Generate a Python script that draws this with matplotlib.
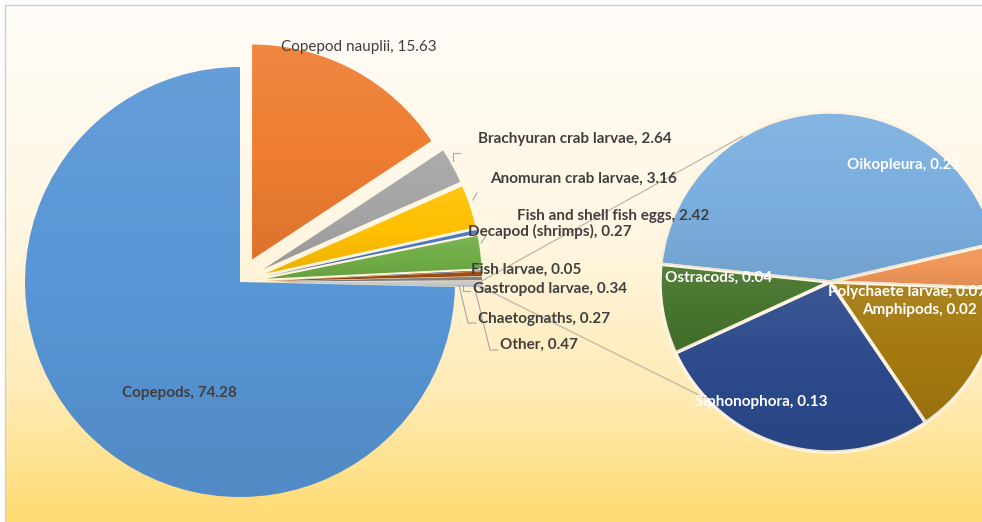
import numpy as np
import matplotlib.pyplot as plt
from matplotlib.colors import LinearSegmentedColormap

W, H = 982, 522

# main pie, clockwise from 12 o'clock
main_labels = ['Copepod nauplii', 'Brachyuran crab larvae', 'Anomuran crab larvae',
               'Decapod (shrimps)', 'Fish and shell fish eggs', 'Fish larvae',
               'Gastropod larvae', 'Chaetognaths', 'Other', 'Copepods']
main_values = [15.63, 2.64, 3.16, 0.27, 2.42, 0.05, 0.34, 0.27, 0.47, 74.28]
main_colors = ['#EE7D31', '#A5A5A5', '#FFC000', '#4472C4', '#70AD47', '#264478',
               '#9E480E', '#808080', '#C9C9C9', '#5896D6']

# secondary pie ("Other" split)
sub_labels = ['Oikopleura', 'Amphipods', 'Polychaete larvae', 'Siphonophora', 'Ostracods']
sub_values = [0.21, 0.02, 0.07, 0.13, 0.04]
sub_colors = ['#7BAFE0', '#F1975A', '#A47A10', '#2C4A8C', '#47752D']

# label anchors (left edge, pixel row from top)
main_label_pos = [(281, 47), (478, 139), (490, 179), (468, 231), (517, 216),
                  (471, 270), (473, 289), (478, 319), (500, 345), (122, 393)]
sub_label_pos = [(847, 165), (862, 310), (828, 292), (695, 402), (665, 278)]

plt.rcParams['font.family'] = ['Lato', 'DejaVu Sans']

fig = plt.figure(figsize=(W / 100, H / 100), dpi=100)
ax = fig.add_axes([0, 0, 1, 1])

# background gradient
bg = LinearSegmentedColormap.from_list('bg', [(0, '#FFDB72'), (0.25, '#FFEBB5'),
                                              (0.55, '#FFF6E2'), (1, '#FFFDF8')])
grad = np.linspace(0, 1, 256).reshape(-1, 1)
ax.imshow(grad, cmap=bg, extent=(5, W, 0, H - 5), origin='lower', aspect='auto', zorder=0)
ax.plot([5, 5], [0, H - 5], color='#D0D0D0', lw=1, zorder=1)
ax.plot([5, W], [H - 5, H - 5], color='#D0D0D0', lw=1, zorder=1)

main_explode = [25.5, 27, 27, 27, 27, 27, 27, 27, 27, 0]
wedges, _ = ax.pie(main_values, colors=main_colors, startangle=90, counterclock=False,
                   center=(240, H - 282), radius=215, explode=main_explode, frame=True,
                   wedgeprops=dict(linewidth=0))

sub_wedges, _ = ax.pie(sub_values, colors=sub_colors, startangle=90 - 276, counterclock=False,
                       center=(830, H - 282), radius=170, frame=True,
                       wedgeprops=dict(edgecolor='#FFF5E2', linewidth=2.5))

# soft top-light / bottom-dark shading on each slice
shade = np.zeros((256, 1, 4))
t = np.linspace(0, 1, 256)
shade[:, 0, :3] = (t > 0.5)[:, None] * 1.0
shade[:, 0, 3] = np.abs(t - 0.5) * 0.16
for w in list(wedges) + list(sub_wedges):
    bb = w.get_path().get_extents()
    im = ax.imshow(shade, extent=(bb.x0, bb.x1, bb.y0, bb.y1), origin='lower',
                   aspect='auto', zorder=w.get_zorder() + 0.1)
    im.set_clip_path(w)

# connector lines from "Other" slice to the secondary pie
other = wedges[8]
ocx, ocy = other.center
t_hi, t_lo = np.radians(other.theta2), np.radians(other.theta1)
scx, scy = 830, H - 282
for t_main, t_sub in [(t_hi, np.radians(90 - 329)), (t_lo, np.radians(90 - 226.6))]:
    ax.plot([ocx + 215 * np.cos(t_main), scx + 170 * np.cos(t_sub)],
            [ocy + 215 * np.sin(t_main), scy + 170 * np.sin(t_sub)],
            color='#BFB6A8', lw=0.9, zorder=3)

# small leader lines
lc = '#A6A6A6'
ax.plot([460, 453, 453], [H - 153, H - 153, H - 161], color=lc, lw=0.8)
ax.plot([473, 477], [H - 200, H - 193], color=lc, lw=0.8)
ax.plot([481, 486], [H - 243, H - 236], color=lc, lw=0.8)
ax.plot([463, 463, 470], [H - 285, H - 291, H - 291], color=lc, lw=0.8)
ax.plot([459, 468, 476], [H - 285, H - 323, H - 323], color=lc, lw=0.8)
ax.plot([474, 490, 498], [H - 285, H - 350, H - 350], color=lc, lw=0.8)

for name, val, (x, y) in zip(main_labels, main_values, main_label_pos):
    weight = 'normal' if name == 'Copepod nauplii' else 'bold'
    ax.text(x, H - y, f'{name}, {val:.2f}', ha='left', va='center', color='#404040',
            fontweight=weight, fontsize=11, zorder=5)

for name, val, (x, y) in zip(sub_labels, sub_values, sub_label_pos):
    ax.text(x, H - y, f'{name}, {val:.2f}', ha='left', va='center', color='white',
            fontweight='bold', fontsize=11, zorder=5)

ax.set_xlim(0, W)
ax.set_ylim(0, H)
ax.set_aspect('equal')
ax.axis('off')

fig.savefig('out.png', dpi=100, facecolor='white')
